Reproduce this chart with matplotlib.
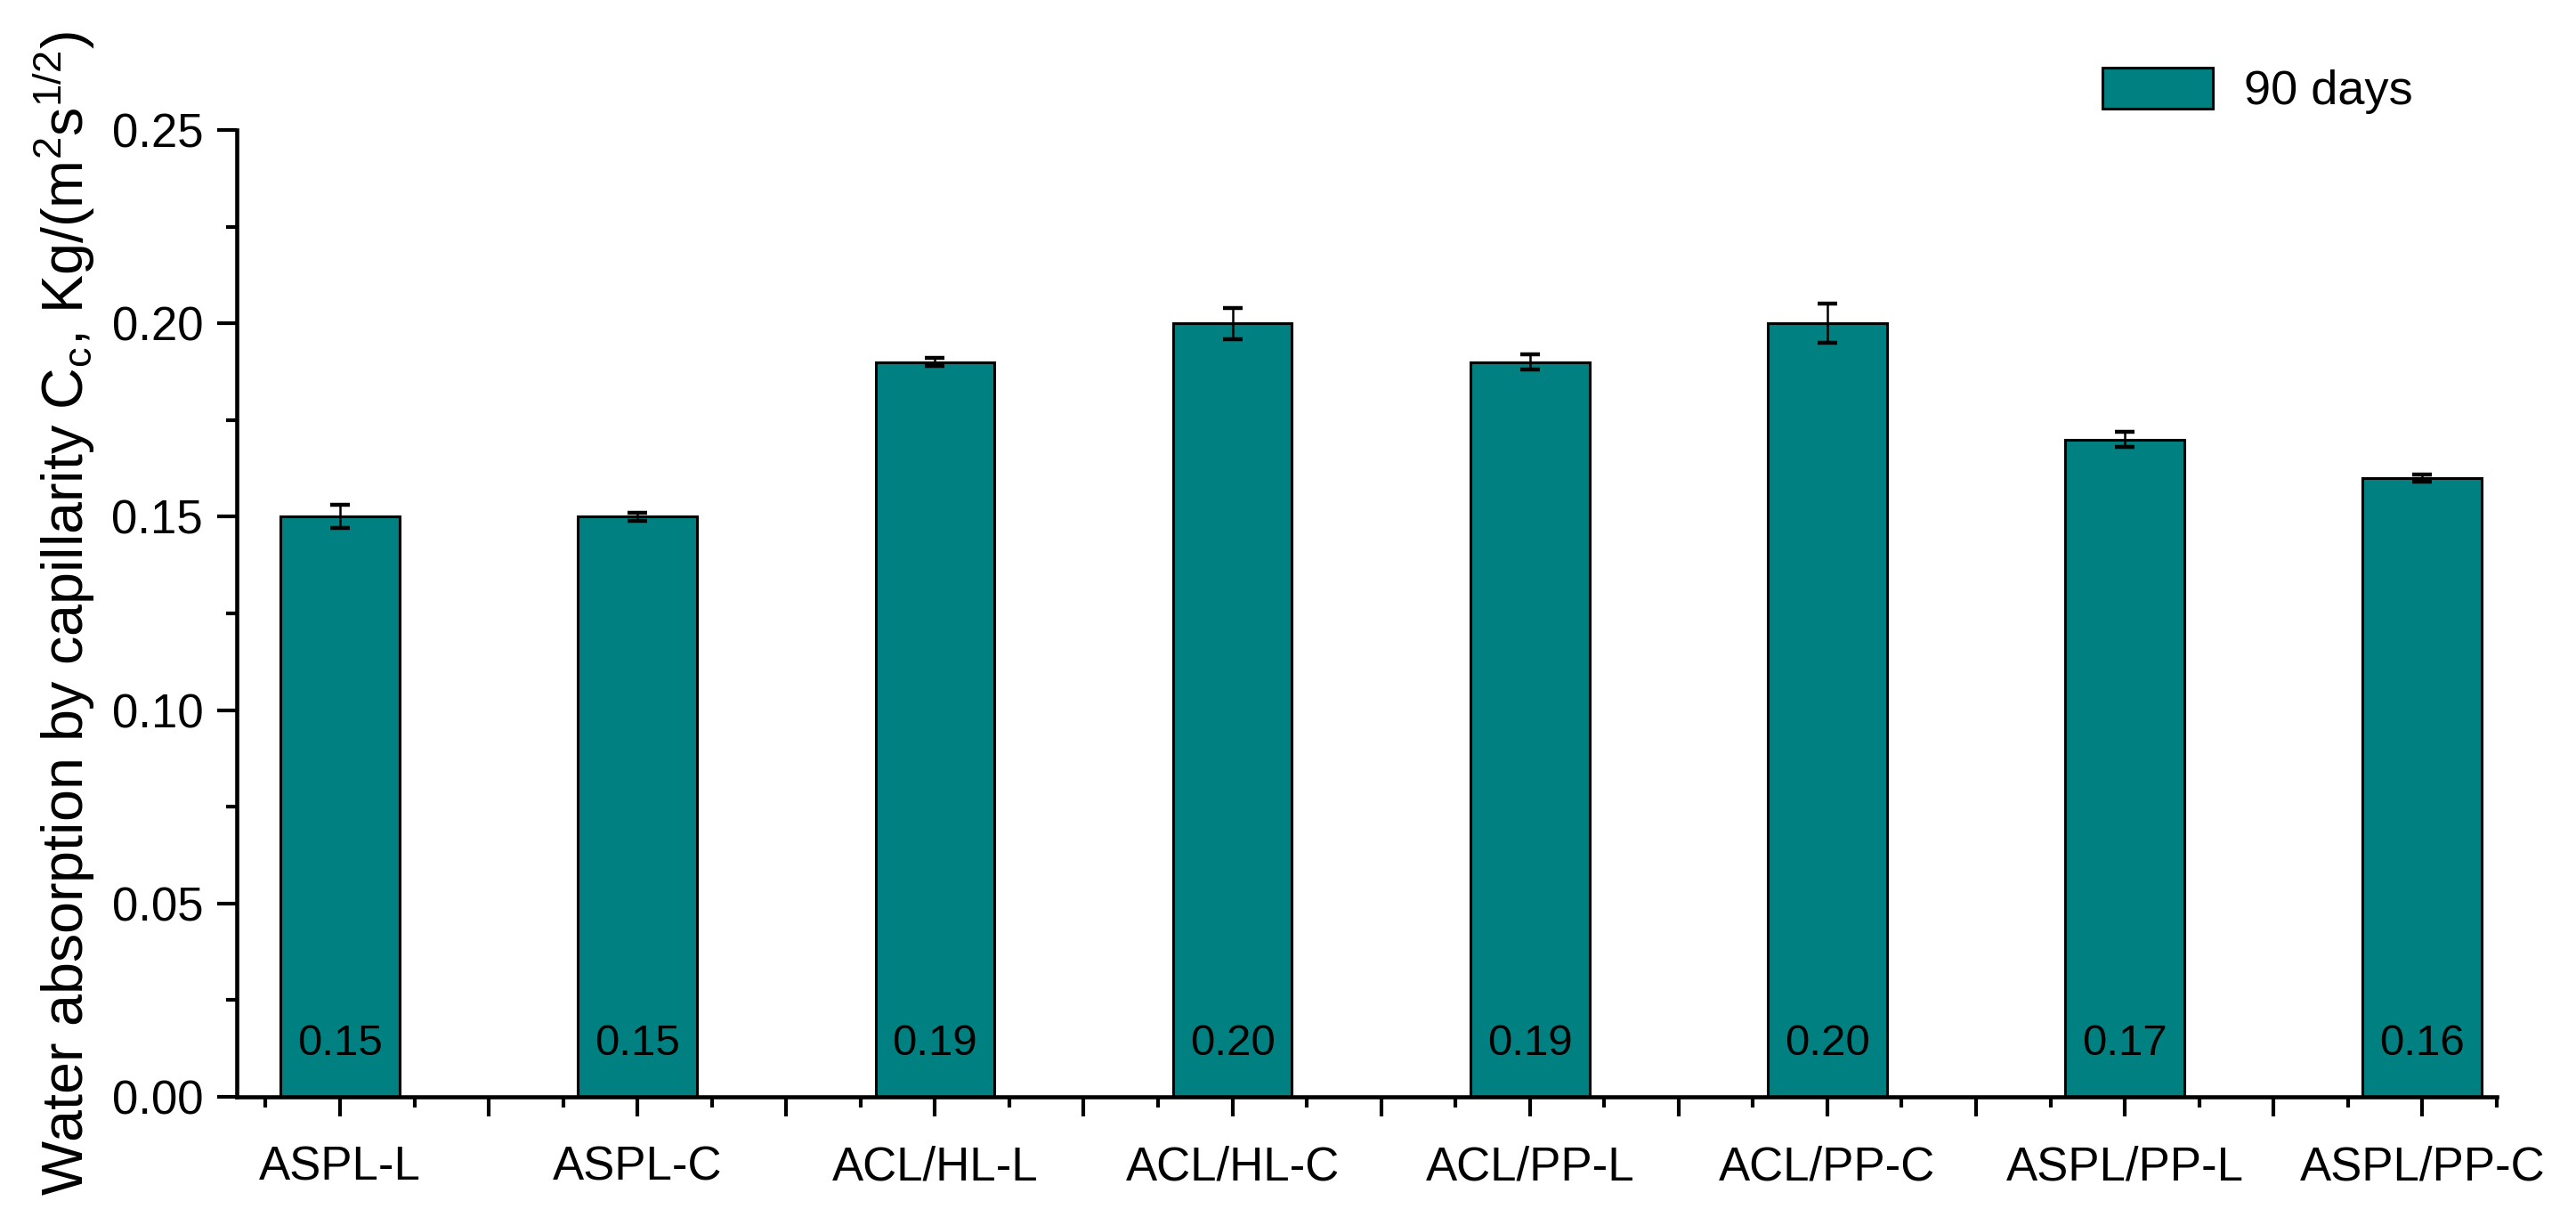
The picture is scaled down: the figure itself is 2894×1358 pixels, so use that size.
import numpy as np
import matplotlib
matplotlib.use('Agg')
import matplotlib.pyplot as plt
from matplotlib.ticker import FixedLocator, FormatStrFormatter

plt.rcParams['font.family'] = ['Liberation Sans', 'DejaVu Sans']
plt.rcParams['mathtext.fontset'] = 'custom'
plt.rcParams['mathtext.rm'] = 'Liberation Sans'
plt.rcParams['mathtext.it'] = 'Liberation Sans:italic'
plt.rcParams['mathtext.bf'] = 'Liberation Sans:bold'

# 数据
categories = ['ASPL-L', 'ASPL-C', 'ACL/HL-L', 'ACL/HL-C',
              'ACL/PP-L', 'ACL/PP-C', 'ASPL/PP-L', 'ASPL/PP-C']
values = [0.15, 0.15, 0.19, 0.20, 0.19, 0.20, 0.17, 0.16]
errors = [0.003, 0.001, 0.001, 0.004, 0.002, 0.005, 0.002, 0.001]
value_labels = ['0.15', '0.15', '0.19', '0.20', '0.19', '0.20', '0.17', '0.16']
series_name = '90 days'

bar_color = '#008080'
tick_fs = 38
value_fs = 35.5
legend_fs = 39
label_fs = 46.5

fig = plt.figure(figsize=(28.94, 13.58), dpi=100)
ax = fig.add_axes([0.0918, 0.0928, 0.9692 - 0.0918, 0.8925 - 0.0928])

x = np.arange(len(categories))
ax.bar(x, values, width=0.4, color=bar_color, edgecolor='black', linewidth=2.2,
       label=series_name, zorder=2)
ax.errorbar(x, values, yerr=errors, fmt='none', ecolor='black', elinewidth=1.8,
            capsize=8, capthick=3.2, zorder=3)

# 柱内数值
for xi, txt in zip(x, value_labels):
    ax.text(xi, 0.0085, txt, ha='center', va='bottom', fontsize=value_fs, zorder=4)

ax.set_xlim(-0.348, 7.25)
ax.set_ylim(0, 0.25)

# 刻度
major_x = np.arange(0, 7.01, 0.5)
ax.xaxis.set_major_locator(FixedLocator(major_x))
ax.set_xticklabels([categories[int(v)] if v == int(v) else '' for v in major_x])
ax.xaxis.set_minor_locator(FixedLocator(np.arange(-0.25, 7.26, 0.5)))

ax.yaxis.set_major_locator(FixedLocator(np.arange(0, 0.2501, 0.05)))
ax.yaxis.set_minor_locator(FixedLocator(np.arange(0.025, 0.25, 0.05)))
ax.yaxis.set_major_formatter(FormatStrFormatter('%.2f'))

ax.tick_params(axis='both', which='major', direction='out', length=16, width=3,
               labelsize=tick_fs)
ax.tick_params(axis='both', which='minor', direction='out', length=8.6, width=3)
ax.tick_params(axis='x', which='major', pad=23)
ax.tick_params(axis='y', which='major', pad=11)

for side in ['top', 'right']:
    ax.spines[side].set_visible(False)
for side in ['left', 'bottom']:
    ax.spines[side].set_linewidth(3.3)

ax.set_ylabel(r'Water absorption by capillarity C$_\mathrm{c}$, Kg/(m$^\mathrm{2}$s$^\mathrm{1/2}$)',
              fontsize=label_fs, labelpad=12)

ax.legend(loc='center left', bbox_to_anchor=(0.816, 0.925), bbox_transform=fig.transFigure,
          frameon=False, fontsize=legend_fs, handlelength=2.3, handleheight=0.93,
          handletextpad=0.65, borderpad=0, borderaxespad=0)

fig.savefig('out.png', dpi=100)
